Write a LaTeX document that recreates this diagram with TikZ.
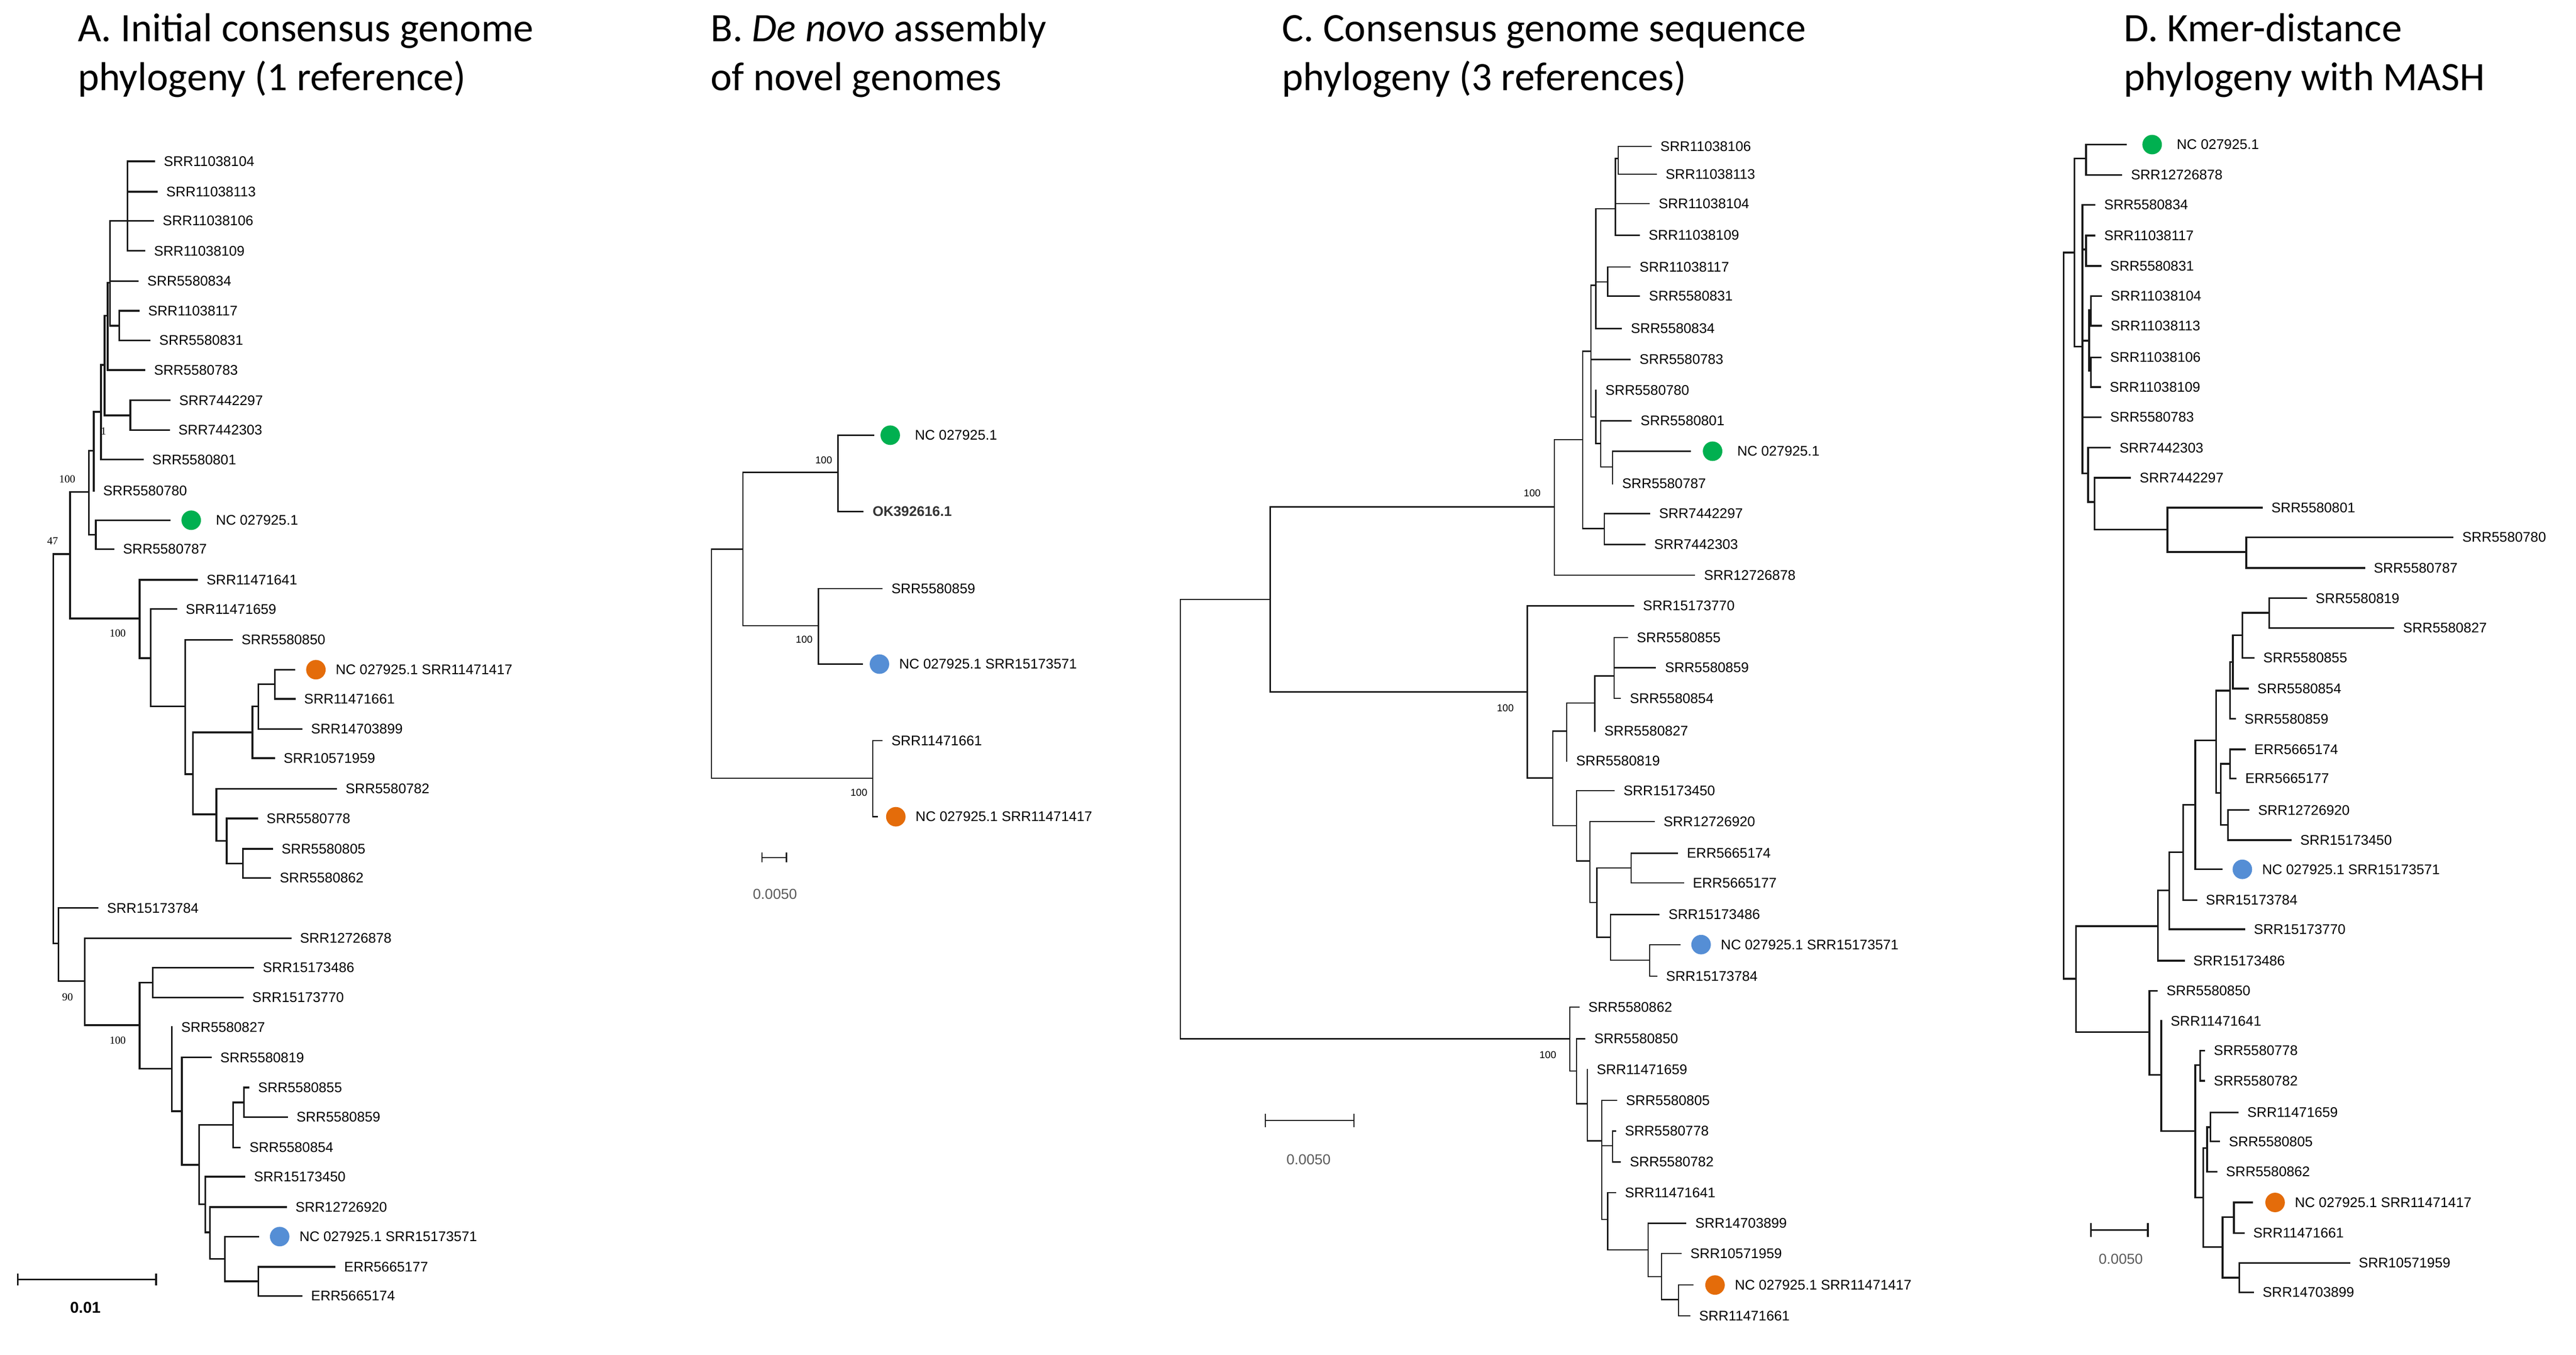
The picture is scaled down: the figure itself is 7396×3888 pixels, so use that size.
\documentclass[tikz,border=0pt]{standalone}
\usepackage{fontspec}
\setsansfont{Liberation Sans}
\newfontfamily\titlefamily{Carlito}
\newfontfamily\bootfamily{Liberation Serif}
\usepackage{tikz}
\usepackage{xcolor}
\def\tipgap{1.3mm}
\definecolor{refgreen}{RGB}{0,176,80}
\definecolor{reforange}{RGB}{228,108,10}
\definecolor{refblue}{RGB}{85,142,213}
\definecolor{bargrey}{RGB}{90,90,90}
\newcommand\leaffont{\sffamily\fontsize{5.7}{6.8}\selectfont}
\newcommand\titlefont{\titlefamily\fontsize{16.5}{19.8}\selectfont}

\begin{document}
\begin{tikzpicture}[x=0.05mm, y=-0.05mm]
	\tikzstyle{branch}=[draw=black!90, line width=0.25mm, line cap=rect]
	\tikzstyle{thin branch}=[branch, line width=0.18mm]
	\tikzstyle{leaf}=[anchor=west, inner xsep=\tipgap, inner ysep=0pt, font=\leaffont]
	\tikzstyle{tipdot}=[circle, minimum size=2.8mm, inner sep=0pt]
	\tikzstyle{todot}=[shorten >=1.6mm]
	\tikzstyle{boot serif}=[inner sep=0pt, font=\bootfamily\fontsize{4.4}{5}\selectfont]
	\tikzstyle{boot}=[inner sep=0pt, font=\sffamily\fontsize{4.1}{5}\selectfont]
	\tikzstyle{title}=[anchor=base west, inner sep=0pt, font=\titlefont]
	\tikzstyle{bar label}=[inner sep=0pt, text=bargrey, font=\sffamily\fontsize{5.9}{7}\selectfont]

	\path[use as bounding box, fill=white] (0,0) rectangle (7396,3888);

	% Titles of the four panels
	\node[title] (titleA1) at (222,119) {A. Initial consensus genome};
	\node[title] (titleA2) at (222,259) {phylogeny (1 reference)};
	\node[title] (titleB1) at (2039,119) {B. \textit{De novo} assembly};
	\node[title] (titleB2) at (2039,259) {of novel genomes};
	\node[title] (titleC1) at (3680,119) {C. Consensus genome sequence};
	\node[title] (titleC2) at (3680,259) {phylogeny (3 references)};
	\node[title] (titleD1) at (6097,119) {D. Kmer-distance};
	\node[title] (titleD2) at (6097,259) {phylogeny with MASH};

	% ---------------- Panel A ----------------
	% Draw the leaves
	\foreach \id / \x / \y in {SRR11038104/443/463, SRR11038113/450/550, SRR11038106/440/634,
		SRR11038109/415/720, SRR5580834/396/807, SRR11038117/398/892, SRR5580831/430/977,
		SRR5580783/415/1062, SRR7442297/487/1149, SRR7442303/485/1234, SRR5580801/410/1319,
		SRR5580780/269/1408, SRR5580787/326/1576, SRR11471641/566/1664, SRR11471659/506/1748,
		SRR5580850/666/1836, SRR11471661/846/2006, SRR14703899/866/2092, SRR10571959/787/2176,
		SRR5580782/965/2264, SRR5580778/738/2349, SRR5580805/781/2436, SRR5580862/776/2520,
		SRR15173784/280/2606, SRR12726878/834/2693, SRR15173486/727/2777, SRR15173770/697/2863,
		SRR5580827/493/2948, SRR5580819/605/3035, SRR5580855/714/3121, SRR5580859/824/3206,
		SRR5580854/689/3293, SRR15173450/702/3377, SRR12726920/821/3464, ERR5665177/961/3636,
		ERR5665174/866/3719}
	\node[leaf] (A-\id) at (\x,\y) {\id};

	% Reference genomes
	\node[tipdot, fill=refgreen] (A-gdot) at (549,1493) {};
	\node[leaf, xshift=0.7mm] (A-gref) at (A-gdot.east) {NC 027925.1};
	\node[tipdot, fill=reforange] (A-odot) at (907,1922) {};
	\node[leaf] (A-oref) at (A-odot.east) {NC 027925.1 SRR11471417};
	\node[tipdot, fill=refblue] (A-bdot) at (803,3549) {};
	\node[leaf] (A-bref) at (A-bdot.east) {NC 027925.1 SRR15173571};

	% Inner nodes of the tree
	\foreach \name / \x / \y in {n1/366/634, n2/342/935, n3/316/811, n4/309/906, n5/374/1192,
		n6/300/1047, n7/290/1182, n8/269/1294, n9/275/1535, n10/255/1412, n11/201/1590,
		m1/401/1775, m2/433/1889, m3/532/2027, m4/554/2222, m5/725/2102, m6/621/2337,
		m7/742/2027, m8/789/1964, m9/651/2413, m10/697/2478, p1/168/2708, p2/243/2816,
		p3/401/2942, p4/439/2820, p5/493/3067, p6/522/3189, p7/572/3343, p8/669/3228,
		p9/589/3456, p10/700/3164, p11/603/3537, p12/646/3613, p13/742/3677, root/153/2150}
	\coordinate (A-\name) at (\x,\y);

	% Connect the branches
	\foreach \parent / \child in {n1/SRR11038104, n1/SRR11038113, n1/SRR11038106, n1/SRR11038109,
		n2/SRR11038117, n2/SRR5580831, n3/n1, n3/SRR5580834, n3/n2, n4/n3, n4/SRR5580783,
		n5/SRR7442297, n5/SRR7442303, n6/n4, n6/n5, n7/n6, n7/SRR5580801, n8/n7, n8/SRR5580780,
		n9/SRR5580787, n10/n8, n10/n9, n11/n10, n11/m1, m1/SRR11471641, m1/m2,
		m2/SRR11471659, m2/m3, m3/SRR5580850, m3/m4, m4/m5, m4/m6, m5/m7, m5/SRR10571959,
		m7/m8, m7/SRR14703899, m8/SRR11471661, m6/SRR5580782, m6/m9, m9/SRR5580778, m9/m10,
		m10/SRR5580805, m10/SRR5580862, root/n11, root/p1, p1/SRR15173784, p1/p2,
		p2/SRR12726878, p2/p3, p3/p4, p3/p5, p4/SRR15173486, p4/SRR15173770,
		p5/SRR5580827, p5/p6, p6/SRR5580819, p6/p7, p7/p8, p7/p9, p8/p10, p8/SRR5580854,
		p10/SRR5580855, p10/SRR5580859, p9/SRR15173450, p9/p11, p11/SRR12726920, p11/p12,
		p12/p13, p13/ERR5665177, p13/ERR5665174}
	\draw[branch] (A-\parent) |- (A-\child);
	\draw[branch, todot] (A-n9) |- (A-gdot);
	\draw[branch, todot] (A-m8) |- (A-odot);
	\draw[branch, todot] (A-p12) |- (A-bdot);

	% Bootstrap values
	\node[boot serif] (A-bs1) at (193,1375) {100};
	\node[boot serif] (A-bs2) at (297,1238) {1};
	\node[boot serif] (A-bs3) at (151,1553) {47};
	\node[boot serif] (A-bs4) at (338,1817) {100};
	\node[boot serif] (A-bs5) at (194,2861) {90};
	\node[boot serif] (A-bs6) at (338,2986) {100};

	% Scale bar
	\coordinate (A-bar0) at (51,3672);
	\coordinate (A-bar1) at (448,3672);
	\draw[branch] (A-bar0) -- (A-bar1);
	\draw[branch] (A-bar0) ++(0,-15) -- ++(0,30);
	\draw[branch] (A-bar1) ++(0,-15) -- ++(0,30);
	\node[inner sep=0pt, font=\sffamily\bfseries\fontsize{6.4}{7.5}\selectfont] (A-barlab) at (245,3753) {0.01};

	% ---------------- Panel B ----------------
	\foreach \id / \x / \y in {SRR5580859/2532/1689, SRR11471661/2532/2126}
	\node[leaf] (B-\id) at (\x,\y) {\id};
	\node[leaf, font=\leaffont\bfseries, text=black!80] (B-ok) at (2478,1468) {OK392616.1};

	\node[tipdot, fill=refgreen] (B-gdot) at (2556,1249) {};
	\node[leaf, xshift=0.7mm] (B-gref) at (B-gdot.east) {NC 027925.1};
	\node[tipdot, fill=refblue] (B-bdot) at (2525,1906) {};
	\node[leaf] (B-bref) at (B-bdot.east) {NC 027925.1 SRR15173571};
	\node[tipdot, fill=reforange] (B-odot) at (2572,2344) {};
	\node[leaf] (B-oref) at (B-odot.east) {NC 027925.1 SRR11471417};

	\foreach \name / \x / \y in {q1/2406/1356, q2/2350/1796, q3/2133/1576, q4/2506/2234, root/2043/1900}
	\coordinate (B-\name) at (\x,\y);

	\foreach \parent / \child in {q1/ok, q2/SRR5580859, q3/q1, q3/q2, q4/SRR11471661, root/q3, root/q4}
	\draw[thin branch] (B-\parent) |- (B-\child);
	\draw[thin branch, shorten >=0.9mm] (B-q1) |- (B-gdot);
	\draw[thin branch, shorten >=1mm] (B-q2) |- (B-bdot);
	\draw[thin branch, shorten >=1.2mm] (B-q4) |- (B-odot);

	\node[boot] (B-bs1) at (2365,1320) {100};
	\node[boot] (B-bs2) at (2309,1836) {100};
	\node[boot] (B-bs3) at (2466,2274) {100};

	\coordinate (B-bar0) at (2188,2461);
	\coordinate (B-bar1) at (2258,2461);
	\draw[thin branch] (B-bar0) -- (B-bar1);
	\draw[thin branch] (B-bar0) ++(0,-12) -- ++(0,24);
	\draw[thin branch] (B-bar1) ++(0,-12) -- ++(0,24);
	\node[bar label] (B-barlab) at (2225,2566) {0.0050};

	% ---------------- Panel C ----------------
	\foreach \id / \x / \y in {SRR11038106/4740/420, SRR11038113/4755/500, SRR11038104/4735/584,
		SRR11038109/4706/675, SRR11038117/4680/766, SRR5580831/4707/850, SRR5580834/4655/943,
		SRR5580783/4680/1032, SRR5580780/4582/1120, SRR5580801/4683/1208, SRR5580787/4630/1388,
		SRR7442297/4736/1474, SRR7442303/4722/1563, SRR12726878/4865/1651, SRR15173770/4690/1739,
		SRR5580855/4672/1830, SRR5580859/4753/1916, SRR5580854/4652/2004, SRR5580827/4579/2098,
		SRR5580819/4498/2184, SRR15173450/4634/2269, SRR12726920/4749/2358, ERR5665174/4816/2449,
		ERR5665177/4833/2534, SRR15173486/4763/2625, SRR15173784/4756/2802, SRR5580862/4533/2890,
		SRR5580850/4550/2981, SRR11471659/4557/3070, SRR5580805/4641/3158, SRR5580778/4638/3246,
		SRR5580782/4652/3335, SRR11471641/4638/3423, SRR14703899/4840/3511, SRR10571959/4826/3597,
		SRR11471661/4851/3776}
	\node[leaf] (C-\id) at (\x,\y) {\id};

	\node[tipdot, fill=refgreen] (C-gdot) at (4917,1295) {};
	\node[leaf, xshift=0.7mm] (C-gref) at (C-gdot.east) {NC 027925.1};
	\node[tipdot, fill=refblue] (C-bdot) at (4884,2711) {};
	\node[leaf] (C-bref) at (C-bdot.east) {NC 027925.1 SRR15173571};
	\node[tipdot, fill=reforange] (C-odot) at (4924,3688) {};
	\node[leaf] (C-oref) at (C-odot.east) {NC 027925.1 SRR11471417};

	\foreach \name / \x / \y in {c1/4646/455, c2/4638/599, c3/4582/819, c4/4616/809, c5/4596/1273,
		c6/4630/1340, c7/4606/1517, c8/4463/1455, c9/3647/1720, c10/4568/1008, c11/4544/1262,
		c12/4582/1197, c13/4385/1986, c14/4458/2233, c15/4498/2098, c16/4526/2370, c17/4579/2018,
		c18/4634/1940, c19/4565/2471, c20/4585/2590, c21/4683/2491, c22/4624/2690, c23/4736/2756,
		c24/4507/2981, c25/4526/3074, c26/4557/3168, c27/4599/3274, c28/4630/3288, c29/4616/3500,
		c30/4732/3587, c31/4770/3664, c32/4819/3730, root/3389/2300}
	\coordinate (C-\name) at (\x,\y);

	\foreach \parent / \child in {c1/SRR11038106, c1/SRR11038113, c2/c1, c2/SRR11038104,
		c2/SRR11038109, c4/SRR11038117, c4/SRR5580831, c3/c2, c3/c4, c3/SRR5580834,
		c10/c3, c10/SRR5580783, c10/c12, c12/SRR5580780, c12/c5, c5/SRR5580801, c5/c6,
		c6/SRR5580787, c7/SRR7442297, c7/SRR7442303, c11/c10, c11/c7, c8/c11, c8/SRR12726878,
		c9/c8, c9/c13, c13/SRR15173770, c13/c14, c14/c15, c14/c16, c15/c17, c15/SRR5580819,
		c17/c18, c17/SRR5580827, c18/SRR5580855, c18/SRR5580859, c18/SRR5580854,
		c16/SRR15173450, c16/c19, c19/SRR12726920, c19/c20, c20/c21, c20/c22,
		c21/ERR5665174, c21/ERR5665177, c22/SRR15173486, c22/c23, c23/SRR15173784,
		root/c9, root/c24, c24/SRR5580862, c24/c25, c25/SRR5580850, c25/c26,
		c26/SRR11471659, c26/c27, c27/SRR5580805, c27/c28, c27/c29, c28/SRR5580778,
		c28/SRR5580782, c29/SRR11471641, c29/c30, c30/SRR14703899, c30/c31,
		c31/SRR10571959, c31/c32, c32/SRR11471661}
	\draw[thin branch] (C-\parent) |- (C-\child);
	\draw[thin branch, shorten >=1.7mm] (C-c6) |- (C-gdot);
	\draw[thin branch, shorten >=1.6mm] (C-c23) |- (C-bdot);
	\draw[thin branch, shorten >=1.7mm] (C-c32) |- (C-odot);

	\node[boot] (C-bs1) at (4399,1415) {100};
	\node[boot] (C-bs2) at (4322,2032) {100};
	\node[boot] (C-bs3) at (4444,3028) {100};

	\coordinate (C-bar0) at (3633,3216);
	\coordinate (C-bar1) at (3887,3216);
	\draw[thin branch] (C-bar0) -- (C-bar1);
	\draw[thin branch] (C-bar0) ++(0,-17) -- ++(0,34);
	\draw[thin branch] (C-bar1) ++(0,-17) -- ++(0,34);
	\node[bar label] (C-barlab) at (3757,3328) {0.0050};

	% ---------------- Panel D ----------------
	\foreach \id / \x / \y in {SRR12726878/6091/502, SRR5580834/6014/588, SRR11038117/6014/676,
		SRR5580831/6031/763, SRR11038104/6033/850, SRR11038113/6033/935, SRR11038106/6031/1026,
		SRR11038109/6030/1111, SRR5580783/6031/1197, SRR7442303/6058/1285, SRR7442297/6116/1371,
		SRR5580801/6494/1457, SRR5580780/7042/1542, SRR5580787/6788/1630, SRR5580819/6621/1717,
		SRR5580827/6872/1802, SRR5580855/6471/1888, SRR5580854/6454/1976, SRR5580859/6417/2063,
		ERR5665174/6445/2151, ERR5665177/6419/2234, SRR12726920/6456/2325, SRR15173450/6577/2411,
		SRR15173784/6306/2583, SRR15173770/6444/2667, SRR15173486/6270/2757, SRR5580850/6193/2844,
		SRR11471641/6205/2930, SRR5580778/6329/3015, SRR5580782/6329/3102, SRR11471659/6425/3193,
		SRR5580805/6372/3276, SRR5580862/6364/3363, SRR11471661/6442/3539, SRR10571959/6745/3625,
		SRR14703899/6469/3709}
	\node[leaf] (D-\id) at (\x,\y) {\id};

	\node[tipdot, fill=refgreen] (D-gdot) at (6179,415) {};
	\node[leaf, xshift=0.7mm] (D-gref) at (D-gdot.east) {NC 027925.1};
	\node[tipdot, fill=refblue] (D-bdot) at (6438,2495) {};
	\node[leaf] (D-bref) at (D-bdot.east) {NC 027925.1 SRR15173571};
	\node[tipdot, fill=reforange] (D-odot) at (6532,3451) {};
	\node[leaf] (D-oref) at (D-odot.east) {NC 027925.1 SRR11471417};

	\foreach \name / \x / \y in {d1/5989/455, d2/5956/725, d3/5979/995, d4/5989/716, d5/6003/890,
		d6/6003/1064, d7/5998/978, d8/5995/1359, d9/6014/1441, d10/6223/1520, d11/6449/1584,
		e1/6515/1759, e2/6438/1823, e3/6411/1900, e4/6403/1982, e5/6403/2192, e6/6397/2367,
		e7/6376/2276, e8/6363/2125, e9/6303/2310, e10/6268/2446, e11/6228/2555, e12/6196/2658,
		e13/5960/2809, e14/6171/2962, e15/6205/3085, e16/6303/3246, e17/6317/3057, e18/6326/3437,
		e19/6337/3295, e20/6381/3579, e21/6346/3235, e22/6414/3493, e23/6429/3667, root/5925/1800}
	\coordinate (D-\name) at (\x,\y);

	\foreach \parent / \child in {d1/SRR12726878, d4/SRR11038117, d4/SRR5580831,
		d5/SRR11038104, d5/SRR11038113, d6/SRR11038106, d6/SRR11038109, d7/d5, d7/d6,
		d3/SRR5580834, d3/d4, d3/d7, d3/SRR5580783, d3/d8, d8/SRR7442303, d8/d9,
		d9/SRR7442297, d9/d10, d10/SRR5580801, d10/d11, d11/SRR5580780, d11/SRR5580787,
		d2/d1, d2/d3, root/d2, root/e13, e1/SRR5580819, e1/SRR5580827, e2/e1, e2/SRR5580855,
		e3/e2, e3/SRR5580854, e4/e3, e4/SRR5580859, e5/ERR5665174, e5/ERR5665177,
		e6/SRR12726920, e6/SRR15173450, e7/e5, e7/e6, e8/e4, e8/e7, e9/e8, e10/e9,
		e10/SRR15173784, e11/e10, e11/SRR15173770, e12/e11, e12/SRR15173486, e13/e12,
		e13/e14, e14/SRR5580850, e14/e15, e15/SRR11471641, e15/e16, e16/e17, e16/e18,
		e17/SRR5580778, e17/SRR5580782, e18/e19, e18/e20, e19/e21, e19/SRR5580862,
		e21/SRR11471659, e21/SRR5580805, e20/e22, e20/e23, e22/SRR11471661,
		e23/SRR10571959, e23/SRR14703899}
	\draw[branch] (D-\parent) |- (D-\child);
	\draw[branch, shorten >=2.3mm] (D-d1) |- (D-gdot);
	\draw[branch, shorten >=1.5mm] (D-e9) |- (D-bdot);
	\draw[branch, shorten >=1.8mm] (D-e22) |- (D-odot);

	\coordinate (D-bar0) at (6003,3530);
	\coordinate (D-bar1) at (6167,3530);
	\draw[branch] (D-bar0) -- (D-bar1);
	\draw[branch] (D-bar0) ++(0,-17) -- ++(0,34);
	\draw[branch] (D-bar1) ++(0,-17) -- ++(0,34);
	\node[bar label] (D-barlab) at (6089,3614) {0.0050};
\end{tikzpicture}
\end{document}
